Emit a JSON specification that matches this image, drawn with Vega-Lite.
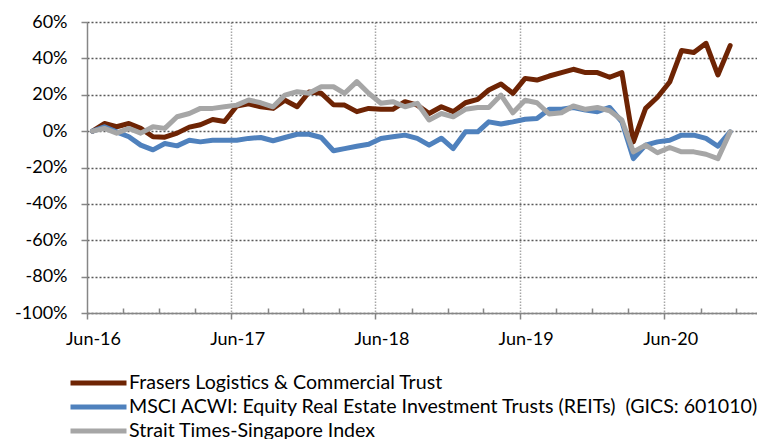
{
  "$schema": "https://vega.github.io/schema/vega-lite/v6.json",
  "width": 670,
  "height": 291,
  "autosize": {"type": "none"},
  "padding": {"left": 87, "top": 22, "right": 0, "bottom": 126},
  "background": "white",
  "config": {
    "view": {"stroke": null},
    "font": "Lato",
    "axis": {"labelFont": "Lato", "labelFontSize": 18, "labelColor": "#000000", "titleFont": "Lato"},
    "legend": {"labelFont": "Lato", "labelFontSize": 19.6, "labelColor": "#000000"}
  },
  "data": {
    "values": [
      {"date": "2016-06-15T00:00:00", "f": 0, "m": 0, "s": 0},
      {"date": "2016-07-15T00:00:00", "f": 4.2, "m": 2.4, "s": 1.5},
      {"date": "2016-08-15T00:00:00", "f": 2.4, "m": -0.4, "s": -1.1},
      {"date": "2016-09-15T00:00:00", "f": 4.2, "m": -3.1, "s": 1.5},
      {"date": "2016-10-15T00:00:00", "f": 1.5, "m": -7.7, "s": -1.1},
      {"date": "2016-11-15T00:00:00", "f": -3.1, "m": -10.3, "s": 2.4},
      {"date": "2016-12-15T00:00:00", "f": -3.3, "m": -6.8, "s": 1.5},
      {"date": "2017-01-15T00:00:00", "f": -1.1, "m": -8.1, "s": 7.9},
      {"date": "2017-02-15T00:00:00", "f": 2.2, "m": -5, "s": 9.7},
      {"date": "2017-03-15T00:00:00", "f": 3.5, "m": -5.9, "s": 12.5},
      {"date": "2017-04-15T00:00:00", "f": 6.4, "m": -5, "s": 12.5},
      {"date": "2017-05-15T00:00:00", "f": 5.3, "m": -5, "s": 13.4},
      {"date": "2017-06-15T00:00:00", "f": 13.8, "m": -5, "s": 14.3},
      {"date": "2017-07-15T00:00:00", "f": 15, "m": -4, "s": 17.1},
      {"date": "2017-08-15T00:00:00", "f": 13.4, "m": -3.5, "s": 15.6},
      {"date": "2017-09-15T00:00:00", "f": 12.5, "m": -5.3, "s": 13.4},
      {"date": "2017-10-15T00:00:00", "f": 17, "m": -3.5, "s": 19.8},
      {"date": "2017-11-15T00:00:00", "f": 13.4, "m": -1.7, "s": 21.7},
      {"date": "2017-12-15T00:00:00", "f": 21.5, "m": -1.7, "s": 20.8},
      {"date": "2018-01-15T00:00:00", "f": 20.8, "m": -3.5, "s": 24.4},
      {"date": "2018-02-15T00:00:00", "f": 14.5, "m": -10.8, "s": 24.4},
      {"date": "2018-03-15T00:00:00", "f": 14.3, "m": -9.6, "s": 20.8},
      {"date": "2018-04-15T00:00:00", "f": 10.7, "m": -8.3, "s": 27.2},
      {"date": "2018-05-15T00:00:00", "f": 12.5, "m": -7.2, "s": 20.8},
      {"date": "2018-06-15T00:00:00", "f": 12, "m": -4, "s": 15.3},
      {"date": "2018-07-15T00:00:00", "f": 12, "m": -3.1, "s": 16.2},
      {"date": "2018-08-15T00:00:00", "f": 16.2, "m": -2.2, "s": 13.4},
      {"date": "2018-09-15T00:00:00", "f": 14.3, "m": -4, "s": 15.3},
      {"date": "2018-10-15T00:00:00", "f": 9.7, "m": -7.7, "s": 6.1},
      {"date": "2018-11-15T00:00:00", "f": 13.4, "m": -3.9, "s": 9.7},
      {"date": "2018-12-15T00:00:00", "f": 10.7, "m": -9.6, "s": 7.9},
      {"date": "2019-01-15T00:00:00", "f": 15.6, "m": -0.4, "s": 12},
      {"date": "2019-02-15T00:00:00", "f": 17.5, "m": -0.4, "s": 13},
      {"date": "2019-03-15T00:00:00", "f": 22.6, "m": 5.1, "s": 13},
      {"date": "2019-04-15T00:00:00", "f": 25.9, "m": 3.9, "s": 19.8},
      {"date": "2019-05-15T00:00:00", "f": 20.8, "m": 5.1, "s": 10.1},
      {"date": "2019-06-15T00:00:00", "f": 29, "m": 6.5, "s": 17},
      {"date": "2019-07-15T00:00:00", "f": 28.1, "m": 7, "s": 15.6},
      {"date": "2019-08-15T00:00:00", "f": 30.3, "m": 12, "s": 9.4},
      {"date": "2019-09-15T00:00:00", "f": 32.2, "m": 12, "s": 10.1},
      {"date": "2019-10-15T00:00:00", "f": 34, "m": 13, "s": 13.8},
      {"date": "2019-11-15T00:00:00", "f": 32.2, "m": 11.6, "s": 12},
      {"date": "2019-12-15T00:00:00", "f": 32.2, "m": 10.7, "s": 13},
      {"date": "2020-01-15T00:00:00", "f": 29.6, "m": 13, "s": 11.2},
      {"date": "2020-02-15T00:00:00", "f": 32.2, "m": 5.1, "s": 6.1},
      {"date": "2020-03-15T00:00:00", "f": -5.9, "m": -15.1, "s": -11.4},
      {"date": "2020-04-15T00:00:00", "f": 12.5, "m": -7.7, "s": -7.7},
      {"date": "2020-05-15T00:00:00", "f": 18.6, "m": -5.9, "s": -11.9},
      {"date": "2020-06-15T00:00:00", "f": 27, "m": -5, "s": -9},
      {"date": "2020-07-15T00:00:00", "f": 44.3, "m": -2.2, "s": -11.4},
      {"date": "2020-08-15T00:00:00", "f": 43.2, "m": -2.2, "s": -11.4},
      {"date": "2020-09-15T00:00:00", "f": 48.3, "m": -4, "s": -12.7},
      {"date": "2020-10-15T00:00:00", "f": 30.9, "m": -8.3, "s": -15.1},
      {"date": "2020-11-15T00:00:00", "f": 47, "m": -0.4, "s": -0.4}
    ]
  },
  "transform": [
    {"fold": ["f", "m", "s"], "as": ["series", "value"]}
  ],
  "mark": {"type": "line", "strokeWidth": 5, "strokeJoin": "round", "strokeCap": "round"},
  "encoding": {
    "x": {
      "field": "date",
      "type": "temporal",
      "title": null,
      "scale": {
        "domain": [
          {"year": 2016, "month": "jun", "date": 1},
          {"year": 2021, "month": "jan", "date": 22}
        ]
      },
      "axis": {
        "values": [
          {"year": 2016, "month": "jun", "date": 1},
          {"year": 2016, "month": "sep", "date": 1},
          {"year": 2016, "month": "dec", "date": 1},
          {"year": 2017, "month": "mar", "date": 1},
          {"year": 2017, "month": "jun", "date": 1},
          {"year": 2017, "month": "sep", "date": 1},
          {"year": 2017, "month": "dec", "date": 1},
          {"year": 2018, "month": "mar", "date": 1},
          {"year": 2018, "month": "jun", "date": 1},
          {"year": 2018, "month": "sep", "date": 1},
          {"year": 2018, "month": "dec", "date": 1},
          {"year": 2019, "month": "mar", "date": 1},
          {"year": 2019, "month": "jun", "date": 1},
          {"year": 2019, "month": "sep", "date": 1},
          {"year": 2019, "month": "dec", "date": 1},
          {"year": 2020, "month": "mar", "date": 1},
          {"year": 2020, "month": "jun", "date": 1},
          {"year": 2020, "month": "sep", "date": 1},
          {"year": 2020, "month": "dec", "date": 1}
        ],
        "labelExpr": "month(datum.value) == 5 ? timeFormat(datum.value, '%b-%y') : ''",
        "labelOffset": 6,
        "labelPadding": 11,
        "labelFlush": false,
        "labelOverlap": false,
        "domainColor": "#868686",
        "domainWidth": 1.5,
        "tickColor": "#868686",
        "tickWidth": 1.5,
        "tickSize": {"condition": {"test": "month(datum.value) == 5", "value": 6}, "value": -5},
        "grid": true,
        "gridColor": "#A6A6A6",
        "gridDash": [1.5, 1.5],
        "gridWidth": 1.5,
        "gridOpacity": {"condition": {"test": "month(datum.value) == 5 && year(datum.value) > 2016", "value": 1}, "value": 0}
      }
    },
    "y": {
      "field": "value",
      "type": "quantitative",
      "title": null,
      "scale": {"domain": [-100, 60], "nice": false, "zero": false},
      "axis": {
        "values": [-100, -80, -60, -40, -20, 0, 20, 40, 60],
        "labelExpr": "datum.value + '%'",
        "labelPadding": 14,
        "domainColor": "#868686",
        "domainWidth": 1.5,
        "tickColor": "#868686",
        "tickWidth": 1.5,
        "tickSize": 6,
        "grid": true,
        "gridColor": "#595959",
        "gridDash": [2, 2],
        "gridWidth": 1.5
      }
    },
    "color": {
      "field": "series",
      "type": "nominal",
      "scale": {"domain": ["f", "m", "s"], "range": ["#6E2404", "#4F81BD", "#A6A6A6"]},
      "legend": {
        "title": null,
        "orient": "none",
        "direction": "vertical",
        "legendX": -19,
        "legendY": 349,
        "symbolType": "stroke",
        "symbolSize": 3136,
        "symbolStrokeWidth": 5,
        "clipHeight": 24,
        "rowPadding": 0,
        "labelOffset": 0,
        "labelLimit": 900,
        "padding": 0,
        "labelExpr": "datum.value == 'f' ? 'Frasers Logistics & Commercial Trust' : datum.value == 'm' ? 'MSCI ACWI: Equity Real Estate Investment Trusts (REITs)\u00a0 (GICS: 601010)' : 'Strait Times-Singapore Index'"
      }
    }
  }
}
